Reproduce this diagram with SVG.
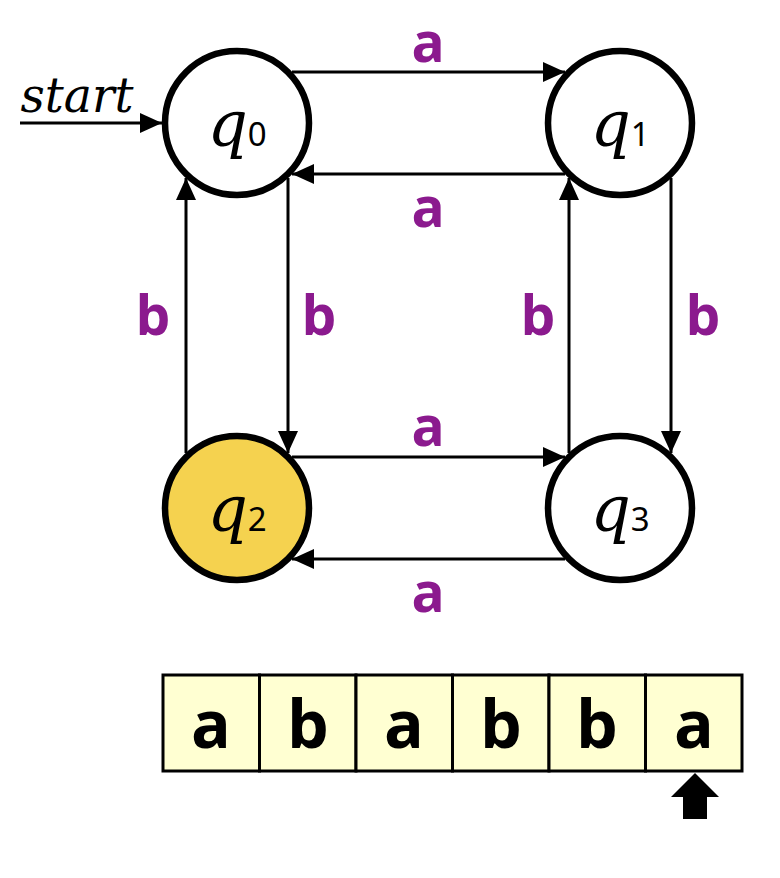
<svg xmlns="http://www.w3.org/2000/svg" width="780" height="878" viewBox="0 0 780 878">
  <style>
    .state { fill: #ffffff; stroke: #000000; stroke-width: 6.5; }
    .accept { fill: #f5d24f; }
    .qname { font-family: "DejaVu Serif", "Liberation Serif", serif; font-style: italic; font-size: 63px; fill: #000; }
    .qsub { font-family: "Noto Sans", "DejaVu Sans", sans-serif; font-style: normal; font-size: 33px; }
    .edge { fill: none; stroke: #000000; stroke-width: 3; marker-end: url(#head); }
    .sym { font-family: "Open Sans", "DejaVu Sans", sans-serif; font-weight: bold; font-size: 55px; fill: #8b1a8e; text-anchor: middle; }
    .cell { fill: #ffffd2; stroke: #000000; stroke-width: 3; }
    .tape { font-family: "Open Sans", "DejaVu Sans", sans-serif; font-weight: bold; font-size: 66px; fill: #000; text-anchor: middle; }
  </style>
  <defs>
    <marker id="head" viewBox="0 0 22 20" refX="22" refY="10" markerWidth="22" markerHeight="20" markerUnits="userSpaceOnUse" orient="auto">
      <path d="M0,0 L22,10 L0,20 Z" fill="#000"/>
    </marker>
  </defs>

  <!-- transitions -->
  <g id="connectors">
    <path class="edge" d="M20,123 H162"/>
    <path class="edge" d="M292,72 H565"/>
    <path class="edge" d="M565,174 H292"/>
    <path class="edge" d="M292,457 H565"/>
    <path class="edge" d="M565,559 H292"/>
    <path class="edge" d="M288,178 V453"/>
    <path class="edge" d="M186,453 V178"/>
    <path class="edge" d="M671,178 V453"/>
    <path class="edge" d="M569,453 V178"/>
    <text x="77" y="112" font-family="DejaVu Serif, Liberation Serif, serif" font-style="italic" font-size="48" textLength="113" lengthAdjust="spacingAndGlyphs" text-anchor="middle">start</text>
    <text class="sym" x="428" y="62">a</text>
    <text class="sym" x="428" y="227">a</text>
    <text class="sym" x="428" y="446">a</text>
    <text class="sym" x="428" y="612">a</text>
    <text class="sym" x="153" y="335">b</text>
    <text class="sym" x="319" y="335">b</text>
    <text class="sym" x="538" y="335">b</text>
    <text class="sym" x="703" y="335">b</text>
  </g>

  <!-- states -->
  <g id="q0">
    <circle class="state" cx="237" cy="123" r="72"/>
    <text class="qname" x="237" y="146" text-anchor="middle">q<tspan class="qsub">0</tspan></text>
  </g>
  <g id="q1">
    <circle class="state" cx="620" cy="123" r="72"/>
    <text class="qname" x="620" y="146" text-anchor="middle">q<tspan class="qsub">1</tspan></text>
  </g>
  <g id="q2">
    <circle class="state accept" cx="237" cy="508" r="72"/>
    <text class="qname" x="237" y="531" text-anchor="middle">q<tspan class="qsub">2</tspan></text>
  </g>
  <g id="q3">
    <circle class="state" cx="620" cy="508" r="72"/>
    <text class="qname" x="620" y="531" text-anchor="middle">q<tspan class="qsub">3</tspan></text>
  </g>

  <!-- input tape with read head -->
  <g id="tape">
    <rect class="cell" x="163" y="675" width="96.5" height="96"/>
    <rect class="cell" x="259.5" y="675" width="96.5" height="96"/>
    <rect class="cell" x="356" y="675" width="96.5" height="96"/>
    <rect class="cell" x="452.5" y="675" width="96.5" height="96"/>
    <rect class="cell" x="549" y="675" width="96.5" height="96"/>
    <rect class="cell" x="645.5" y="675" width="96.5" height="96"/>
    <text class="tape" x="211" y="748">a</text>
    <text class="tape" x="308" y="748">b</text>
    <text class="tape" x="404" y="748">a</text>
    <text class="tape" x="501" y="748">b</text>
    <text class="tape" x="597" y="748">b</text>
    <text class="tape" x="694" y="748">a</text>
  </g>
  <g id="pointer">
    <path d="M695,773 L719,797 L707,797 L707,819 L683,819 L683,797 L671,797 Z" fill="#000"/>
  </g>
</svg>
